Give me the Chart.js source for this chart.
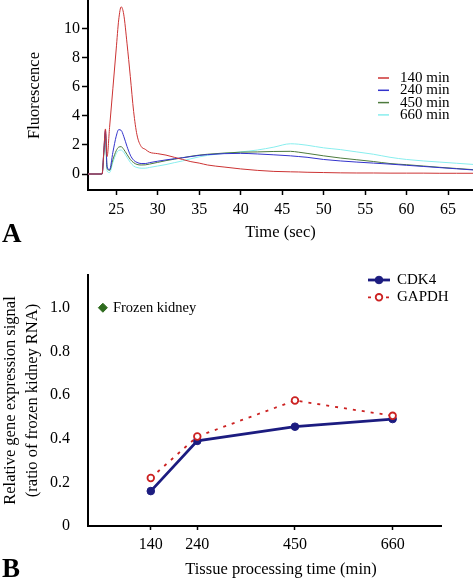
<!DOCTYPE html>
<html>
<head>
<meta charset="utf-8">
<title>Fluorescence traces and gene expression</title>
<script src="https://cdn.jsdelivr.net/npm/chart.js"></script>
<style>
  body { margin: 0; background: #fff; }
  canvas { display: block; }
</style>
</head>
<body>
<canvas id="chartA" width="473" height="250"></canvas>
<canvas id="chartB" width="473" height="329"></canvas>
<script>
// ---- Panel A: fluorescence traces ----
const timeSec = [21.6, 23.3, 23.5, 23.7, 23.9, 24.2, 24.6, 25.0, 25.3, 25.6,
  25.9, 26.3, 26.7, 27.1, 27.5, 28.0, 28.5, 29, 30, 31,
  32, 33, 34, 35, 36, 38, 40, 42, 44, 46,
  47, 48, 50, 52, 54, 56, 58, 60, 62, 64, 66, 68];
const fluor140 = [0, 0, 1.5, 3.1, 1.2, 3.2, 5.9, 8.6, 10.6, 11.5,
  11.0, 9.0, 6.7, 4.3, 2.7, 1.9, 1.7, 1.5, 1.4, 1.3,
  1.15, 1.0, 0.85, 0.75, 0.62, 0.48, 0.35, 0.25, 0.18, 0.15,
  0.14, 0.12, 0.1, 0.08, 0.07, 0.07, 0.06, 0.06, 0.06, 0.05, 0.05, 0.05];
const fluor240 = [0, 0, 1.5, 3.0, 0.5, 0.3, 1.5, 2.6, 3.05, 3.0,
  2.6, 1.9, 1.3, 0.95, 0.8, 0.72, 0.72, 0.78, 0.88, 0.97,
  1.05, 1.12, 1.2, 1.28, 1.33, 1.4, 1.42, 1.38, 1.32, 1.25,
  1.2, 1.15, 1.0, 0.9, 0.82, 0.75, 0.68, 0.6, 0.52, 0.44, 0.36, 0.28];
const fluor450 = [0, 0, 1.4, 2.8, 0.4, 0.25, 1.0, 1.6, 1.85, 1.88,
  1.7, 1.35, 1.0, 0.78, 0.66, 0.62, 0.63, 0.68, 0.8, 0.92,
  1.02, 1.12, 1.22, 1.3, 1.36, 1.44, 1.5, 1.52, 1.55, 1.56,
  1.5, 1.42, 1.25, 1.1, 0.98, 0.86, 0.72, 0.64, 0.55, 0.46, 0.38, 0.3];
const fluor660 = [0, 0, 1.2, 2.5, 0.2, 0.1, 0.8, 1.4, 1.62, 1.65,
  1.5, 1.15, 0.8, 0.55, 0.45, 0.4, 0.4, 0.45, 0.55, 0.65,
  0.78, 0.9, 1.05, 1.18, 1.28, 1.42, 1.52, 1.65, 1.85, 2.08,
  2.05, 1.98, 1.8, 1.68, 1.52, 1.36, 1.15, 1.0, 0.9, 0.82, 0.74, 0.66];
const seriesNamesA = ['140 min', '240 min', '450 min', '660 min'];
const xTicksA = [25, 30, 35, 40, 45, 50, 55, 60, 65];
const yTicksA = [0, 2, 4, 6, 8, 10];

// ---- Panel B: relative gene expression ----
const processingTimes = [140, 240, 450, 660];
const cdk4 = [0.16, 0.39, 0.455, 0.49];
const gapdh = [0.22, 0.41, 0.575, 0.505];
const frozenTime = 37;
const frozenValue = 1.0;
const xTicksB = [140, 240, 450, 660];
const yTicksB = [0, 0.2, 0.4, 0.6, 0.8, 1.0];

const SERIF = "'Liberation Serif', 'Times New Roman', serif";
Chart.defaults.font.family = SERIF;
Chart.defaults.color = '#000';

const colorsA = ['#cc3333', '#3333cc', '#4d7a3d', '#88eeee'];
const navy = '#1c1c80';
const red = '#cc2222';
const green = '#2e6b1e';

function pairs(xs, ys) {
  return xs.map((x, i) => ({ x: x, y: ys[i] }));
}
function fixTicks(values) {
  return scale => { scale.ticks = values.map(v => ({ value: v })); };
}

// legend + panel letter for A
const panelAExtras = {
  id: 'panelAExtras',
  afterDraw(chart) {
    const ctx = chart.ctx;
    ctx.save();
    ctx.font = '15px ' + SERIF;
    ctx.textBaseline = 'middle';
    chart.data.datasets.forEach((ds, i) => {
      const y = 78 + i * 12.3;
      ctx.strokeStyle = ds.borderColor;
      ctx.lineWidth = 1.5;
      ctx.beginPath();
      ctx.moveTo(378, y);
      ctx.lineTo(389, y);
      ctx.stroke();
      ctx.fillStyle = '#000';
      ctx.fillText(ds.label, 400, y);
    });
    ctx.font = 'bold 27px ' + SERIF;
    ctx.textBaseline = 'alphabetic';
    ctx.fillText('A', 2, 242);
    ctx.restore();
  }
};

new Chart(document.getElementById('chartA'), {
  type: 'line',
  data: {
    datasets: [fluor140, fluor240, fluor450, fluor660].map((vals, i) => ({
      label: seriesNamesA[i],
      data: pairs(timeSec, vals),
      borderColor: colorsA[i],
      borderWidth: 1,
      pointRadius: 0,
      cubicInterpolationMode: 'monotone'
    }))
  },
  options: {
    responsive: false,
    animation: false,
    events: [],
    layout: { padding: { top: 1, left: 0, right: 0, bottom: 0 } },
    plugins: { legend: { display: false }, tooltip: { enabled: false } },
    scales: {
      x: {
        type: 'linear', min: 21.6, max: 68,
        afterBuildTicks: fixTicks(xTicksA),
        afterFit: s => { s.height = 60; s.paddingLeft = 0; s.paddingRight = 0; },
        border: { color: '#000', width: 2 },
        grid: { drawOnChartArea: false, tickLength: 5, tickWidth: 1.5, color: '#000' },
        ticks: { font: { size: 16 }, padding: 5, maxRotation: 0 },
        title: { display: true, text: 'Time (sec)', font: { size: 16.5 }, padding: { bottom: 7 } }
      },
      y: {
        min: -1.1, max: 11.9,
        afterBuildTicks: fixTicks(yTicksA),
        afterFit: s => { s.width = 88; s.paddingTop = 0; s.paddingBottom = 0; },
        border: { color: '#000', width: 2 },
        grid: { drawOnChartArea: false, tickLength: 6, tickWidth: 1.5, color: '#000' },
        ticks: { font: { size: 16 }, padding: 2 },
        title: { display: true, text: 'Fluorescence', font: { size: 16.5, lineHeight: 1.25 }, padding: { top: 24 } }
      }
    }
  },
  plugins: [panelAExtras]
});

// legend, point label, x title and panel letter for B
const panelBExtras = {
  id: 'panelBExtras',
  afterDraw(chart) {
    const ctx = chart.ctx;
    ctx.save();
    ctx.fillStyle = '#000';
    ctx.textBaseline = 'middle';

    // label beside the frozen kidney marker
    const pt = chart.getDatasetMeta(2).data[0];
    ctx.font = '14.5px ' + SERIF;
    ctx.fillText(chart.data.datasets[2].label, pt.x + 10, pt.y);

    // legend
    ctx.font = '15px ' + SERIF;
    [0, 1].forEach((k, i) => {
      const ds = chart.data.datasets[k];
      const y = 30 + i * 17.3;
      ctx.strokeStyle = ds.borderColor;
      ctx.lineWidth = ds.borderWidth;
      ctx.setLineDash(ds.borderDash || []);
      ctx.beginPath();
      ctx.moveTo(368, y);
      ctx.lineTo(390, y);
      ctx.stroke();
      ctx.setLineDash([]);
      ctx.beginPath();
      ctx.arc(379, y, ds.pointRadius, 0, Math.PI * 2);
      ctx.fillStyle = ds.pointBackgroundColor;
      ctx.fill();
      ctx.lineWidth = ds.pointBorderWidth;
      ctx.strokeStyle = ds.pointBorderColor;
      ctx.stroke();
      ctx.fillStyle = '#000';
      ctx.fillText(ds.label, 397, y);
    });

    // x axis title
    ctx.font = '16.5px ' + SERIF;
    ctx.textAlign = 'center';
    ctx.fillText('Tissue processing time (min)', 281, 320);

    ctx.textAlign = 'left';
    ctx.textBaseline = 'alphabetic';
    ctx.font = 'bold 27px ' + SERIF;
    ctx.fillText('B', 2, 327);
    ctx.restore();
  }
};

new Chart(document.getElementById('chartB'), {
  type: 'line',
  data: {
    datasets: [
      {
        label: 'CDK4', order: 1,
        data: pairs(processingTimes, cdk4),
        borderColor: navy, backgroundColor: navy, borderWidth: 2.8,
        pointRadius: 3.8, pointBackgroundColor: navy, pointBorderColor: navy, pointBorderWidth: 1
      },
      {
        label: 'GAPDH', order: 0,
        data: pairs(processingTimes, gapdh),
        borderColor: red, borderWidth: 1.8, borderDash: [3, 6],
        pointRadius: 3.3, pointBackgroundColor: '#fff', pointBorderColor: red, pointBorderWidth: 1.8
      },
      {
        label: 'Frozen kidney', order: 2,
        data: [{ x: frozenTime, y: frozenValue }],
        showLine: false, pointStyle: 'rectRot', pointRadius: 4.5,
        backgroundColor: green, borderColor: green, pointBackgroundColor: green, pointBorderColor: green
      }
    ]
  },
  options: {
    responsive: false,
    animation: false,
    events: [],
    layout: { padding: { top: 25, right: 32, left: 0, bottom: 0 } },
    plugins: { legend: { display: false }, tooltip: { enabled: false } },
    scales: {
      x: {
        type: 'linear', min: 5, max: 764,
        afterBuildTicks: fixTicks(xTicksB),
        afterFit: s => { s.height = 53; s.paddingLeft = 0; s.paddingRight = 0; },
        border: { color: '#000', width: 2 },
        grid: { drawOnChartArea: false, tickLength: 4, tickWidth: 1.5, color: '#000' },
        ticks: { font: { size: 16 }, padding: 5, maxRotation: 0 }
      },
      y: {
        min: 0, max: 1.15,
        afterBuildTicks: fixTicks(yTicksB),
        afterFit: s => { s.width = 88; s.paddingTop = 0; s.paddingBottom = 0; },
        border: { color: '#000', width: 2 },
        grid: { display: false },
        ticks: {
          font: { size: 16 }, padding: 10,
          callback: v => (v === 0 ? '0' : v.toFixed(1))
        },
        title: {
          display: true,
          text: ['Relative gene expression signal', '(ratio of frozen kidney RNA)'],
          font: { size: 16.5, lineHeight: 1.3 }, padding: { top: 0 }
        }
      }
    }
  },
  plugins: [panelBExtras]
});
</script>
</body>
</html>
